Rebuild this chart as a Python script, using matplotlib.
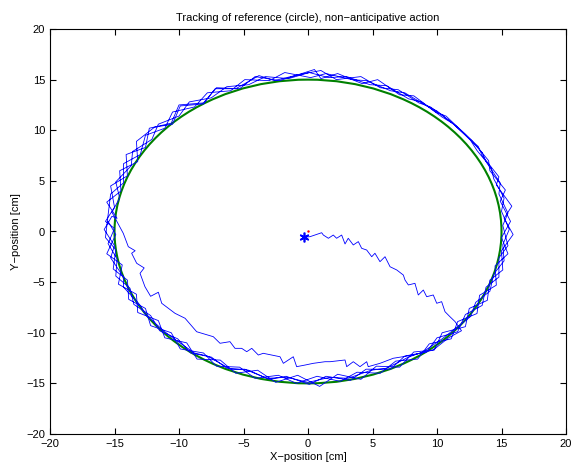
import matplotlib
matplotlib.use("Agg")
import matplotlib.pyplot as plt
from matplotlib.patches import Circle

plt.rcParams["font.family"] = ["Liberation Sans", "DejaVu Sans"]

# reference circle
ref_center = (0.0, 0.0)
ref_radius = 15.0

# start point
start_x = [-0.31]
start_y = [-0.57]

# approach from the start towards the circle
approach_x = [-0.31, 0.16, 0.54, 1.06, 1.19, 1.58, 1.96, 2.22, 2.61, 2.87, 3.12, 3.51,
              3.90, 4.16, 4.55, 4.94, 5.19, 5.58, 5.97, 6.36, 6.88, 7.39, 7.52, 7.78,
              8.29, 8.55, 8.94, 9.20, 9.71, 9.98, 10.36, 10.62, 11.00, 11.40, 11.90, 10.90]
approach_y = [-0.57, -0.51, -0.35, -0.12, -0.35, -0.67, -0.35, -0.67, -0.35, -1.23, -0.67, -1.33,
              -1.00, -1.66, -1.83, -2.49, -2.15, -2.98, -2.49, -3.48, -3.80, -4.30, -4.79, -5.28,
              -5.12, -6.27, -5.78, -6.44, -6.27, -7.09, -6.93, -7.92, -8.41, -8.90, -9.80, -10.50]

# inner path along the bottom, joining the circle on the left
inner_x = [9.71, 8.16, 6.61, 5.58, 4.67, 4.55, 4.03, 3.51, 3.00, 2.87, 1.71, 1.32,
           0.41, -0.23, -0.88, -1.14, -1.91, -2.17, -3.47, -3.85, -4.36, -4.75, -5.14, -5.66,
           -6.05, -6.82, -7.34, -8.63, -9.53, -10.31, -11.34, -11.60, -12.20, -12.64, -13.02, -12.70,
           -13.28, -13.67, -13.40, -13.93, -14.32]
inner_y = [-11.70, -12.20, -12.52, -13.02, -13.35, -12.86, -13.35, -12.86, -13.35, -12.69, -12.86, -12.86,
           -13.02, -13.19, -13.35, -12.37, -13.02, -12.37, -12.03, -12.20, -11.54, -11.87, -11.54, -11.54,
           -10.88, -11.04, -10.39, -9.90, -8.57, -8.08, -7.09, -6.00, -6.40, -5.45, -4.13, -3.60,
           -3.14, -2.15, -1.90, -1.50, -0.18]

# loops around the circle (clockwise)
loop1_x = [-15.2, -14.6, -14.9, -13.7, -13.6, -12.1, -11.6, -10.0, -9.2, -7.5, -6.3, -4.6,
           -3.3, -1.5, 0.1, 1.6, 3.0, 4.8, 6.1, 7.8, 8.8, 10.4, 11.3, 12.6,
           13.1, 14.2, 14.4, 15.2, 15.0, 15.6, 15.1, 15.2, 14.4, 14.1, 13.0, 12.6,
           11.2, 10.4, 8.9, 7.8, 6.1, 4.9, 3.1, 1.7, 0.0, -1.6, -3.2, -4.6,
           -6.3, -7.5, -9.1, -10.1, -11.5, -12.2, -13.5, -13.8, -14.9, -14.8, -15.5, -15.0]
loop1_y = [1.9, 3.3, 4.9, 6.5, 7.9, 9.1, 10.6, 11.4, 12.8, 13.2, 14.3, 14.5,
           15.3, 15.1, 15.7, 15.2, 15.3, 14.5, 14.4, 13.1, 12.8, 11.3, 10.6, 9.0,
           8.0, 6.3, 5.2, 3.3, 2.0, 0.2, -1.3, -2.9, -4.2, -5.9, -7.0, -8.4,
           -9.8, -10.6, -11.9, -12.4, -13.5, -13.7, -14.5, -14.4, -14.9, -14.4, -14.5, -13.7,
           -13.5, -12.4, -12.0, -10.6, -9.8, -8.3, -7.2, -5.6, -4.4, -2.7, -1.2, 0.3]

loop2_x = [-15.7, -15.0, -15.3, -14.0, -14.1, -12.6, -12.3, -10.6, -10.0, -8.1, -7.1, -5.3,
           -4.1, -2.2, 0.5, 1.0, 2.3, 4.2, 5.4, 7.1, 8.2, 9.9, 10.7, 12.2,
           12.7, 14.0, 14.1, 15.3, 14.9, 15.7, 15.0, 15.5, 14.5, 14.6, 13.3, 13.1,
           11.6, 11.1, 9.4, 8.5, 6.8, 5.6, 3.8, 2.5, 0.7, -0.9, -2.3, -4.1,
           -5.3, -7.1, -8.1, -9.9, -10.6, -12.2, -12.6, -13.9, -14.0, -15.1, -14.9, -15.7]
loop2_y = [1.0, 2.4, 4.5, 5.5, 7.6, 8.3, 10.2, 10.7, 12.5, 12.7, 14.2, 14.1,
           15.3, 14.9, 16.0, 15.1, 15.6, 14.6, 15.0, 13.5, 13.4, 11.8, 11.4, 9.6,
           9.0, 7.0, 6.0, 4.1, 3.0, 1.0, -0.6, -2.2, -3.4, -5.3, -6.3, -8.1,
           -8.9, -10.6, -11.1, -12.6, -12.8, -14.0, -13.9, -14.8, -14.3, -15.0, -14.2, -14.5,
           -13.4, -13.3, -12.0, -11.6, -10.0, -9.3, -7.6, -6.7, -4.8, -3.7, -1.8, -0.6]

loop3_x = [-15.5, -15.3, -14.3, -14.3, -13.0, -12.6, -11.1, -10.5, -8.8, -7.8, -6.0, -4.9,
           -3.0, -1.8, 0.2, 1.4, 3.4, 4.5, 6.4, 7.5, 9.2, 10.0, 11.6, 12.2,
           13.5, 13.8, 14.9, 14.8, 15.5, 15.1, 15.5, 14.8, 14.8, 13.8, 13.5, 12.2,
           11.6, 10.0, 9.2, 7.5, 6.4, 4.5, 3.3, 1.4, 0.1, -1.7, -3.0, -4.9,
           -6.0, -7.8, -8.8, -10.5, -11.1, -12.6, -13.0, -14.3, -14.3, -15.3, -15.0, -15.8, -15.2]
loop3_y = [1.6, 3.7, 4.8, 6.7, 7.6, 9.5, 10.2, 11.8, 12.3, 13.7, 13.9, 15.0,
           14.9, 15.7, 15.2, 15.6, 15.0, 14.9, 13.9, 13.7, 12.4, 11.9, 10.3, 9.6,
           7.8, 6.9, 4.8, 3.7, 1.8, 0.6, -1.4, -2.6, -4.5, -5.5, -7.3, -8.2,
           -9.9, -10.5, -11.9, -12.3, -13.6, -13.6, -14.7, -14.3, -15.1, -14.3, -14.6, -13.6,
           -13.6, -12.3, -12.0, -10.5, -9.9, -8.2, -7.3, -5.5, -4.5, -2.6, -1.4, 0.2, 1.5]

loop4_x = [-14.8, -15.6, -14.5, -14.6, -13.2, -13.3, -11.9, -10.5, -9.9, -8.1, -7.2, -5.6,
           -3.8, -2.6, -0.7, 1.0, 2.2, 4.1, 5.6, 7.0, 8.6, 9.5, 11.1, 11.7,
           13.2, 13.5, 14.8, 14.6, 15.8, 15.2, 15.9, 15.0, 15.1, 14.1, 13.9, 12.5,
           12.2, 10.4, 9.8, 8.2, 7.1, 5.3, 4.1, 2.3, 0.9, -0.8, -2.5, -3.9,
           -5.6, -6.8, -8.6, -9.4, -11.1, -11.6, -13.2, -13.3, -14.7, -14.4, -15.6, -14.9, -15.5]
loop4_y = [1.3, 2.9, 4.0, 6.0, 6.9, 8.9, 10.3, 10.6, 12.4, 12.6, 14.1, 14.1,
           15.4, 14.9, 15.5, 15.9, 15.0, 15.3, 14.2, 14.0, 12.7, 12.3, 10.8, 10.1,
           8.4, 7.5, 5.4, 4.6, 2.5, 1.3, -0.3, -1.9, -3.8, -4.8, -6.8, -7.6,
           -9.4, -10.0, -11.7, -11.9, -13.4, -13.3, -14.6, -14.1, -15.3, -14.2, -14.9, -13.7,
           -14.0, -12.7, -12.6, -11.0, -10.5, -8.8, -8.0, -6.2, -5.2, -3.3, -2.2, -0.3, 1.0]

path_x = approach_x + inner_x + loop1_x + loop2_x + loop3_x + loop4_x
path_y = approach_y + inner_y + loop1_y + loop2_y + loop3_y + loop4_y

fig = plt.figure(figsize=(5.74, 4.73), dpi=100)
ax = fig.add_axes([50 / 574, 39 / 473, 516 / 574, 405 / 473])

ax.add_patch(Circle(ref_center, ref_radius, fill=False, edgecolor=(0, 0.5, 0), linewidth=1.5))
ax.plot(path_x, path_y, color="blue", linewidth=0.6)
ax.plot(start_x, start_y, marker=(6, 2, 0), color="blue", markersize=7,
        markeredgewidth=1.2, linestyle="none")
ax.plot([0], [0], marker=".", color="red", markersize=1.5, linestyle="none")

ax.set_xlim(-20, 20)
ax.set_ylim(-20, 20)
ax.set_xticks(range(-20, 21, 5))
ax.set_yticks(range(-20, 21, 5))
ax.tick_params(direction="in", top=True, right=True, length=4, width=0.8, labelsize=8)
for s in ax.spines.values():
    s.set_linewidth(0.8)

ax.set_title("Tracking of reference (circle), non\u2212anticipative action", fontsize=8, pad=6)
ax.set_xlabel("X\u2212position [cm]", fontsize=8, labelpad=2)
ax.set_ylabel("Y\u2212position [cm]", fontsize=8, labelpad=4)

fig.savefig("out.png", dpi=100)
plt.close(fig)
